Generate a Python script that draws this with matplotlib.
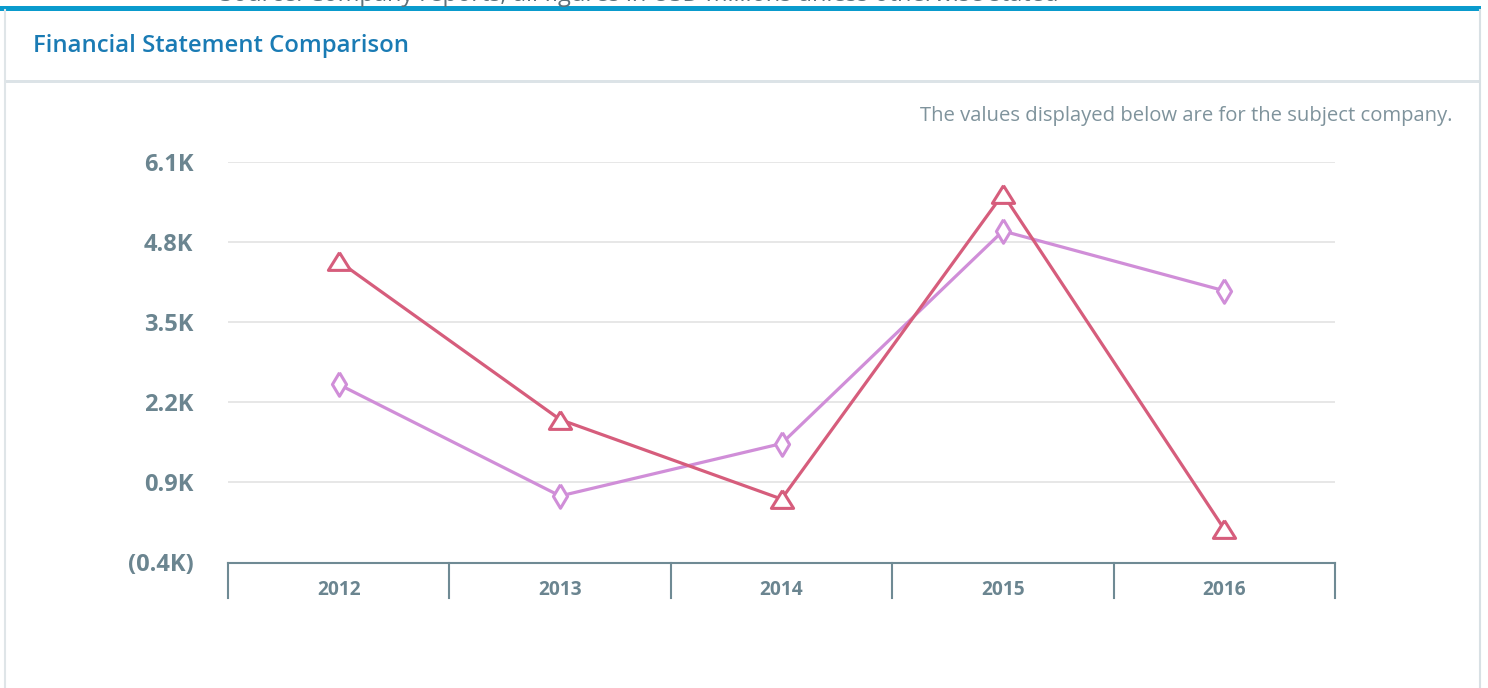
import matplotlib
matplotlib.use("Agg")
import matplotlib.pyplot as plt
from matplotlib.lines import Line2D
from matplotlib.patches import Rectangle
import matplotlib.transforms as mtransforms

plt.rcParams['font.family'] = ['Open Sans', 'DejaVu Sans']

# ---------------- data ----------------
years = ["2012", "2013", "2014", "2015", "2016"]
series_a = [4.49, 1.92, 0.63, 5.58, 0.14]   # red, thousands
series_b = [2.49, 0.68, 1.53, 4.98, 4.01]   # purple, thousands
y_ticks = [-0.4, 0.9, 2.2, 3.5, 4.8, 6.1]
y_tick_labels = ["(0.4K)", "0.9K", "2.2K", "3.5K", "4.8K", "6.1K"]

title = "Financial Statement Comparison"
subtitle = "The values displayed below are for the subject company."
source_note = "Source: Company reports; all figures in USD millions unless otherwise stated"

W, H = 1488, 688
fig = plt.figure(figsize=(W / 100, H / 100), dpi=100)
fig.patch.set_facecolor("white")

def fx(px):
    return px / W

def fy(py):
    return 1 - py / H

# ---------------- frame decorations ----------------
fig.text(fx(220), fy(1.2), source_note, ha="left", va="baseline",
         fontsize=17, color="#5d717a")
fig.patches.append(Rectangle((fx(0), fy(10.5)), fx(1481), 4.5 / H,
                             transform=fig.transFigure, facecolor="#0a9bcd",
                             edgecolor="none"))
fig.lines.append(Line2D([fx(4.5), fx(4.5)], [fy(10), fy(688)],
                        transform=fig.transFigure, color="#dfe5e8", lw=1.5))
fig.lines.append(Line2D([fx(1479.5), fx(1479.5)], [fy(10), fy(688)],
                        transform=fig.transFigure, color="#d8e0e4", lw=1.5))
fig.patches.append(Rectangle((fx(5), fy(83)), fx(1474), 3 / H,
                             transform=fig.transFigure, facecolor="#dce3e7",
                             edgecolor="none"))
fig.text(fx(33), fy(46), title, ha="left", va="center",
         fontsize=17.2, fontweight="semibold", color="#1a7bb4")
fig.text(fx(1452), fy(116), subtitle, ha="right", va="center",
         fontsize=14.6, color="#7f939c")

# ---------------- chart ----------------
ax = fig.add_axes([fx(228), fy(562.5), fx(1335) - fx(228), (562.5 - 162) / H])
x = list(range(len(years)))

ax.set_xlim(-0.5, len(years) - 0.5)
ax.set_ylim(y_ticks[0], y_ticks[-1])
ax.set_yticks(y_ticks)
ax.set_yticklabels(y_tick_labels)
ax.set_xticks(x)
ax.set_xticklabels(years)

for t in y_ticks[1:]:
    ax.axhline(t, color="#e3e3e3", lw=1.2, zorder=0)

for s in ["top", "right", "left"]:
    ax.spines[s].set_visible(False)
ax.spines["bottom"].set_color("#6f8a94")
ax.spines["bottom"].set_linewidth(1.5)

ax.tick_params(axis="y", length=0, pad=25, labelsize=17, labelcolor="#6b8590")
ax.tick_params(axis="x", length=0, pad=12.5, labelsize=13.8, labelcolor="#6b8590")
for lab in ax.get_yticklabels() + ax.get_xticklabels():
    lab.set_fontweight("bold")

# category separators
trans = mtransforms.blended_transform_factory(ax.transData, ax.transAxes)
sep_len = 35 / 400.5
for b in [i - 0.5 for i in range(len(years) + 1)]:
    ax.add_line(Line2D([b, b], [0, -sep_len], transform=trans,
                       color="#6f8a94", lw=1.5, clip_on=False))

tri = [(0, 0.8), (-1, -0.8), (1, -0.8), (0, 0.8)]
dia = [(0, 1), (-0.6, 0), (0, -1), (0.6, 0), (0, 1)]

ax.plot(x, series_b, color="#d08ed8", lw=2.3, marker=dia, markersize=17,
        markerfacecolor="white", markeredgecolor="#d08ed8",
        markeredgewidth=2.2, zorder=3, clip_on=False)
ax.plot(x, series_a, color="#d65d7c", lw=2.3, marker=tri, markersize=16,
        markerfacecolor="white", markeredgecolor="#d65d7c",
        markeredgewidth=2.2, zorder=4, clip_on=False)

fig.savefig("out.png", dpi=100, facecolor="white")
